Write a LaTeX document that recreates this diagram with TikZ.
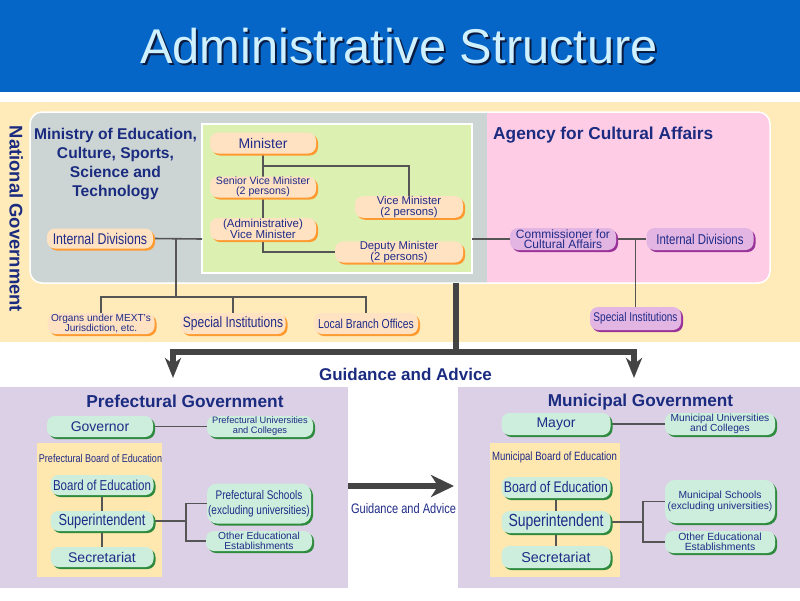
\documentclass[tikz,border=0pt]{standalone}
\usepackage{fontspec}
\setmainfont{Liberation Sans}
\newfontfamily\cf[FakeStretch=0.8]{Liberation Sans}
\usetikzlibrary{arrows.meta,shadows}
\definecolor{titleblue}{HTML}{0566C8}
\definecolor{titletext}{HTML}{CFF0FF}
\definecolor{tshadow}{HTML}{0A1A40}
\definecolor{beige}{HTML}{FFEBBA}
\definecolor{mingray}{HTML}{CCD5D3}
\definecolor{pgreen}{HTML}{DCF0B2}
\definecolor{apink}{HTML}{FFCCE6}
\definecolor{lilac}{HTML}{DCD0E6}
\definecolor{boardy}{HTML}{FFE7B0}
\definecolor{peachf}{HTML}{FFE2C2}
\definecolor{peachs}{HTML}{FF9A30}
\definecolor{purpf}{HTML}{E3B5E2}
\definecolor{purps}{HTML}{9A3399}
\definecolor{greenf}{HTML}{CDEEDC}
\definecolor{greens}{HTML}{2E8B3E}
\definecolor{txtblue}{HTML}{1F2B88}
\definecolor{headblue}{HTML}{1A2B80}
\definecolor{connc}{HTML}{555555}
\definecolor{thickc}{HTML}{444444}
\newcommand\fsz[2]{\fontsize{#1}{#2}\selectfont\lineskiplimit=-20pt\relax}
\pgfdeclarelayer{bg}
\pgfsetlayers{bg,main}
\begin{document}
\begin{tikzpicture}[x=1pt,y=-1pt,
  sz/.style 2 args={minimum width=#1pt, minimum height=#2pt},
  pill/.style={rounded corners=8pt, inner sep=0pt, align=center, text=txtblue},
  peach/.style={pill, fill=peachf, drop shadow={shadow xshift=2pt, shadow yshift=-2pt, fill=peachs, opacity=1}},
  purple/.style={pill, fill=purpf, drop shadow={shadow xshift=2pt, shadow yshift=-2pt, fill=purps, opacity=1}},
  greenpill/.style={pill, fill=greenf, drop shadow={shadow xshift=2pt, shadow yshift=-2pt, fill=greens, opacity=1}},
  conn/.style={draw=connc, line width=1.6pt},
  bigarrow/.style={draw=thickc, line width=6pt, line join=miter},
  head/.style={text=headblue, inner sep=0pt},
  lbl/.style={text=txtblue, inner sep=0pt}]
\useasboundingbox (0,0) rectangle (800,600);
% regions
\begin{pgfonlayer}{bg}
\fill[titleblue] (0,0) rectangle (800,92);
\fill[beige] (0,102) rectangle (800,342);
\fill[mingray, rounded corners=12pt] (30,112) rectangle (770,283);
\begin{scope}
\clip (487,100) rectangle (800,300);
\fill[apink, rounded corners=12pt] (30,112) rectangle (770,283);
\end{scope}
\draw[white, line width=1.5pt, rounded corners=12pt] (30,112) rectangle (770,283);
\fill[pgreen, draw=white, line width=1.5pt] (202,124) rectangle (472,273);
\fill[lilac] (0,387) rectangle (348,588);
\fill[lilac] (458,387) rectangle (800,588);
\fill[boardy] (37,443) rectangle (162,577);
\fill[boardy] (490,443) rectangle (620,577);
\end{pgfonlayer}
% title
\node[text=tshadow, font=\fsz{48.8}{50}, anchor=base, inner sep=0pt] (titleshadow) at (401,65) {Administrative Structure};
\node[text=titletext, font=\fsz{48.8}{50}, anchor=base, inner sep=0pt] (title) at (399,63) {Administrative Structure};
% headings
\node[head, font=\bfseries\fsz{18.4}{19}, rotate=-90, anchor=base] (natgov) at (9.5,219) {National Government};
\node[head, font=\bfseries\fsz{15.6}{19}, align=center, anchor=north] (ministry) at (115.5,127.5) {Ministry of Education,\\Culture, Sports,\\Science and\\Technology};
\node[head, font=\bfseries\fsz{17.3}{18}, anchor=base west] (agency) at (493,139) {Agency for Cultural Affairs};
\node[head, font=\bfseries\fsz{17}{18}, anchor=base] (guid) at (405.5,380) {Guidance and Advice};
\node[head, font=\bfseries\fsz{17.3}{18}, anchor=base] (prefgov) at (185,407) {Prefectural Government};
\node[head, font=\bfseries\fsz{17.2}{18}, anchor=base] (munigov) at (640.5,406) {Municipal Government};
\node[lbl, font=\cf\fsz{13.8}{14}, anchor=base] (guid2) at (403.5,513) {Guidance and Advice};
\node[lbl, font=\cf\fsz{11.3}{12}, anchor=base] (pboard) at (100.5,462) {Prefectural Board of Education};
\node[lbl, font=\cf\fsz{12}{12}, anchor=base] (mboard) at (554.5,460) {Municipal Board of Education};
% national pills
\node[peach, sz={106}{20}, font=\cf\fsz{15.5}{16}] (intL) at (100,238.5) {Internal Divisions};
\node[peach, sz={106}{21}, font=\fsz{14}{15}] (minister) at (263,143) {Minister};
\node[peach, sz={106}{21}, font=\fsz{10.6}{10}] (senior) at (263,187) {Senior Vice Minister\\(2 persons)};
\node[peach, sz={106}{22}, font=\fsz{11.5}{11}] (admin) at (263,229) {(Administrative)\\Vice Minister};
\node[peach, sz={108}{21}, font=\fsz{11.3}{11}] (vice) at (409,207) {Vice Minister\\(2 persons)};
\node[peach, sz={128}{20}, font=\fsz{11.3}{10.5}] (deputy) at (399,252) {Deputy Minister\\(2 persons)};
\node[peach, sz={107}{21}, font=\fsz{10.1}{10}] (organs) at (101,323.5) {Organs under MEXT's\\Jurisdiction, etc.};
\node[peach, sz={105}{21}, font=\cf\fsz{15}{16}] (specL) at (233,323.5) {Special Institutions};
\node[peach, sz={104}{21}, font=\cf\fsz{13}{14}] (local) at (366,323.5) {Local Branch Offices};
\node[purple, sz={106}{22}, font=\fsz{12}{10.5}] (comm) at (563,239) {Commissioner for\\Cultural Affairs};
\node[purple, sz={107}{22}, font=\cf\fsz{14.3}{15}] (intR) at (700,239) {Internal Divisions};
\node[purple, sz={91}{23}, font=\cf\fsz{12.6}{13}] (specR) at (635.5,318.5) {Special Institutions};
% local government pills
\node[greenpill, sz={106}{21}, font=\fsz{14}{15}] (governor) at (100,426.5) {Governor};
\node[greenpill, sz={106}{21}, font=\fsz{9.3}{10}] (prefUniv) at (260,426.5) {Prefectural Universities\\and Colleges};
\node[greenpill, sz={103}{20}, font=\cf\fsz{14.4}{15}] (boardP) at (102,485) {Board of Education};
\node[greenpill, sz={103}{20}, font=\cf\fsz{16}{17}] (superP) at (102,521) {Superintendent};
\node[greenpill, sz={103}{20}, font=\fsz{14}{15}] (secP) at (102,557) {Secretariat};
\node[greenpill, sz={104}{40}, rounded corners=10pt, font=\cf\fsz{12.5}{15}] (prefSchools) at (259,503.5) {Prefectural Schools\\(excluding universities)};
\node[greenpill, sz={106}{20}, font=\fsz{10.2}{10}] (otherP) at (259,541) {Other Educational\\Establishments};
\node[greenpill, sz={109}{22}, font=\fsz{14}{15}] (mayor) at (556,424) {Mayor};
\node[greenpill, sz={110}{22}, font=\fsz{10.2}{10}] (muniUniv) at (720,424) {Municipal Universities\\and Colleges};
\node[greenpill, sz={109}{21}, font=\cf\fsz{15.3}{16}] (boardM) at (556,487.5) {Board of Education};
\node[greenpill, sz={109}{22}, font=\cf\fsz{17.5}{18}] (superM) at (556,522) {Superintendent};
\node[greenpill, sz={109}{22}, font=\fsz{14.3}{15}] (secM) at (556,557) {Secretariat};
\node[greenpill, sz={110}{43}, rounded corners=10pt, font=\fsz{10.3}{11}] (muniSchools) at (720,501.5) {Municipal Schools\\(excluding universities)};
\node[greenpill, sz={110}{22}, font=\fsz{10.4}{10}] (otherM) at (720,542) {Other Educational\\Establishments};
% coordinates
\coordinate (mvj) at (263,166);
\coordinate (gW) at (202,239);
\coordinate (jL) at (176,239);
\coordinate (barL) at (176,297);
\coordinate (gE) at (472,239);
\coordinate (pJ) at (186,521);
\coordinate (mJ) at (643,522);
\coordinate (tstart) at (456,283);
\coordinate (tbar) at (456,352);
\coordinate (aL) at (173,378);
\coordinate (aR) at (634,378);
\coordinate (hA) at (348,486);
\coordinate (hB) at (454,486);
% connectors
\begin{pgfonlayer}{bg}
\draw[conn] (minister.south) |- (deputy.west);
\draw[conn] (mvj) -| (vice.north);
\draw[conn] (intL.east) -- (gW);
\draw[conn] (jL) -- (barL);
\draw[conn] (organs.north) |- (barL) -| (local.north);
\draw[conn] (specL.north) -- (specL.north |- barL);
\draw[conn] (gE) -- (comm.west);
\draw[conn] (comm.east) -- (intR.west);
\draw[conn] (specR.north) -- (specR.north |- comm.east);
\draw[conn] (governor.east) -- (prefUniv.west);
\draw[conn] (boardP.south) -- (secP.north);
\draw[conn] (superP.east) -- (pJ);
\draw[conn] (prefSchools.west) -| (pJ |- otherP.west) -- (otherP.west);
\draw[conn] (mayor.east) -- (muniUniv.west);
\draw[conn] (boardM.south) -- (secM.north);
\draw[conn] (superM.east) -- (mJ);
\draw[conn] (muniSchools.west) -| (mJ |- otherM.west) -- (otherM.west);
\end{pgfonlayer}
% thick arrows
\draw[bigarrow] (tstart) -- (tbar);
\draw[bigarrow, {Stealth[length=20pt,width=16pt,inset=6pt]}-{Stealth[length=20pt,width=16pt,inset=6pt]}] (aL) |- (tbar) -| (aR);
\draw[bigarrow, -{Stealth[length=23pt,width=22pt,inset=7pt]}] (hA) -- (hB);
\end{tikzpicture}
\end{document}
